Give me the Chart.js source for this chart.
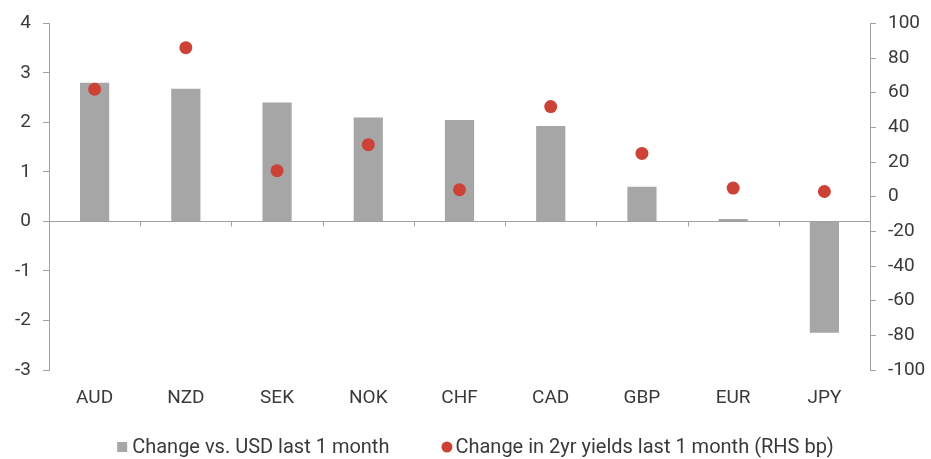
<!DOCTYPE html>
<html>
<head>
<meta charset="utf-8">
<script src="https://cdn.jsdelivr.net/npm/chart.js@4/dist/chart.umd.min.js"></script>
<style>
  html, body { margin: 0; padding: 0; background: #ffffff; }
  #wrap { position: relative; width: 931px; height: 459px; }
</style>
</head>
<body>
<div id="wrap"><canvas id="chart" width="931" height="459"></canvas></div>
<script>
// Currencies along the x axis
const currencies = ['AUD', 'NZD', 'SEK', 'NOK', 'CHF', 'CAD', 'GBP', 'EUR', 'JPY'];
// % change vs. USD over the last month (left axis)
const fxChange = [2.8, 2.68, 2.4, 2.1, 2.05, 1.93, 0.7, 0.05, -2.25];
// Change in 2yr yields over the last month, bp (right axis)
const yieldChange = [62, 86, 15, 30, 4, 52, 25, 5, 3];

const seriesNames = ['Change vs. USD last 1 month', 'Change in 2yr yields last 1 month (RHS bp)'];

const TEXT = '#3a3a3a';
const AXIS = '#a0a0a0';
const GREY = '#a6a6a6';
const RED = '#cc4236';
const FAMILY = 'Roboto, "Open Sans", sans-serif';
const FONT = { family: FAMILY, size: 19 };
const LEGEND_FONT_SIZE = 20;

// Short tick marks under the zero line, at the boundaries between categories
const zeroLineTicks = {
  id: 'zeroLineTicks',
  afterDraw(chart) {
    const x = chart.scales.x, y = chart.scales.y;
    const ctx = chart.ctx;
    const y0 = Math.round(y.getPixelForValue(0)) + 0.5;
    ctx.save();
    ctx.strokeStyle = AXIS;
    ctx.lineWidth = 1;
    ctx.beginPath();
    for (let i = 1; i < currencies.length; i++) {
      const px = Math.round((x.getPixelForValue(i - 1) + x.getPixelForValue(i)) / 2) + 0.5;
      ctx.moveTo(px, y0);
      ctx.lineTo(px, y0 + 5);
    }
    ctx.stroke();
    ctx.restore();
  }
};

// Single-row legend along the bottom: grey square for the bars, red dot for the yields
const bottomLegend = {
  id: 'bottomLegend',
  afterDraw(chart) {
    const ctx = chart.ctx;
    const ds = chart.data.datasets;
    ctx.save();
    ctx.font = LEGEND_FONT_SIZE + 'px ' + FAMILY;
    ctx.textBaseline = 'middle';
    ctx.textAlign = 'left';
    const w0 = ctx.measureText(ds[0].label).width;
    const w1 = ctx.measureText(ds[1].label).width;
    const sq = 10, dot = 11, gapA = 5, gapB = 3, between = 52;
    const total = sq + gapA + w0 + between + dot + gapB + w1;
    const cy = 448;
    let x = chart.width / 2 + 10 - total / 2;
    ctx.fillStyle = ds[0].backgroundColor;
    ctx.fillRect(x, cy - sq / 2 - 1, sq, sq);
    x += sq + gapA;
    ctx.fillStyle = TEXT;
    ctx.fillText(ds[0].label, x, cy);
    x += w0 + between;
    ctx.fillStyle = ds[1].pointBackgroundColor;
    ctx.beginPath();
    ctx.arc(x + dot / 2, cy - 1, dot / 2, 0, Math.PI * 2);
    ctx.fill();
    x += dot + gapB;
    ctx.fillStyle = TEXT;
    ctx.fillText(ds[1].label, x, cy);
    ctx.restore();
  }
};

new Chart(document.getElementById('chart'), {
  data: {
    labels: currencies,
    datasets: [
      {
        type: 'bar',
        label: seriesNames[0],
        data: fxChange,
        backgroundColor: GREY,
        borderWidth: 0,
        yAxisID: 'y',
        categoryPercentage: 1,
        barPercentage: 0.32,
        order: 2
      },
      {
        type: 'line',
        label: seriesNames[1],
        data: yieldChange,
        showLine: false,
        pointRadius: 6.5,
        pointHoverRadius: 6.5,
        pointBackgroundColor: RED,
        pointBorderWidth: 0,
        backgroundColor: RED,
        borderColor: RED,
        yAxisID: 'y1',
        pointStyle: 'circle',
        order: 1
      }
    ]
  },
  options: {
    responsive: false,
    animation: false,
    layout: { padding: { top: 22, left: 0, right: 0, bottom: 49 } },
    plugins: {
      tooltip: { enabled: false },
      legend: { display: false }
    },
    scales: {
      x: {
        grid: { display: false },
        border: { display: false },
        ticks: { color: TEXT, font: FONT, padding: 9 },
        afterFit(scale) { scale.height = 40; }
      },
      y: {
        position: 'left',
        min: -3,
        max: 4,
        ticks: { stepSize: 1, color: TEXT, font: FONT, padding: 12 },
        grid: {
          drawOnChartArea: true,
          color: (c) => (c.tick && c.tick.value === 0 ? AXIS : 'transparent'),
          tickColor: AXIS,
          tickLength: 6
        },
        border: { display: true, color: AXIS },
        afterFit(scale) { scale.width = 49; }
      },
      y1: {
        position: 'right',
        min: -100,
        max: 100,
        ticks: { stepSize: 20, color: TEXT, font: FONT, padding: 12 },
        grid: { drawOnChartArea: false, tickColor: AXIS, tickLength: 6 },
        border: { display: true, color: AXIS },
        afterFit(scale) { scale.width = 61; }
      }
    }
  },
  plugins: [zeroLineTicks, bottomLegend]
});
</script>
</body>
</html>
